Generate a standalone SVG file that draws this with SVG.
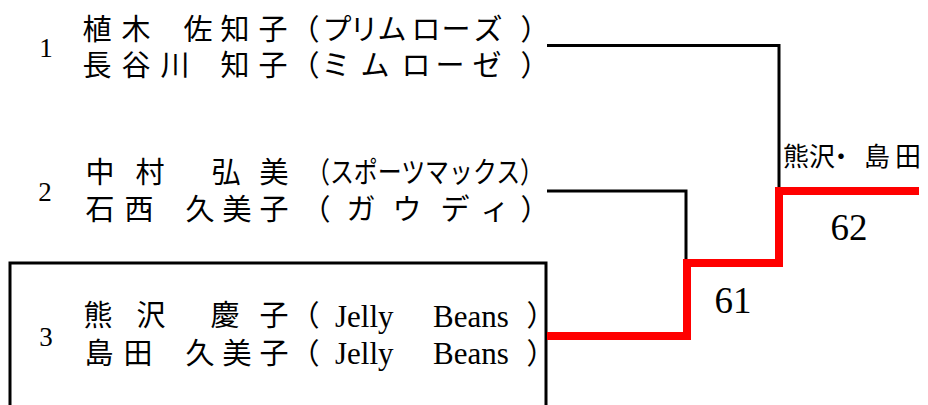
<svg xmlns="http://www.w3.org/2000/svg" width="928" height="405" viewBox="0 0 928 405">
<style>
.jp{font-family:"Noto Sans CJK JP","Liberation Serif",sans-serif;font-size:29px;text-anchor:middle;fill:#000}
.jpc{font-family:"Noto Sans CJK JP","Liberation Serif",sans-serif;font-size:29px;fill:#000}
.lat{font-family:"Liberation Serif",serif;font-size:31px;fill:#000}
.num{font-family:"Liberation Serif",serif;font-size:27px;text-anchor:middle;fill:#000}
.score{font-family:"Liberation Serif",serif;font-size:37px;text-anchor:middle;fill:#000}
.win{font-family:"Noto Sans CJK JP",sans-serif;font-size:26px;text-anchor:middle;fill:#000}
.blk{fill:none;stroke:#000;stroke-width:3}
.red{fill:none;stroke:#f00;stroke-width:8;stroke-linejoin:miter;stroke-linecap:butt}
.box{fill:none;stroke:#000;stroke-width:3}
</style>
<rect width="928" height="405" fill="#fff"/>
<g id="team1">
<text class="num" x="46" y="57">1</text>
<text class="jp" x="97 136 198 235 273 305 337 364 392 426 456 488 535" y="40">植木佐知子（プリムローズ）</text>
<text class="jp" x="97 136 175 235 273 305 336 375 416 450 487 535" y="76">長谷川知子（ミムローゼ）</text>
</g>
<g id="team2">
<text class="num" x="45" y="201">2</text>
<text class="jp" x="100 150 226 274" y="183">中村弘美</text>
<text class="jpc" x="306" y="183" textLength="238" lengthAdjust="spacingAndGlyphs">（スポーツマックス）</text>
<text class="jp" x="100 139 200 237 274 316 361 407 455 495 535" y="220">石西久美子（ガウディ）</text>
</g>
<g id="team3">
<path class="box" d="M10,420 V263 H546 V420"/>
<text class="num" x="46" y="346">3</text>
<text class="jp" x="98 151 225 274" y="326">熊沢慶子</text>
<text class="jp" x="305" y="326">（</text>
<text class="lat" x="335" y="327">Jelly</text>
<text class="lat" x="433" y="327">Beans</text>
<text class="jp" x="541" y="326">）</text>
<text class="jp" x="99 138 200 237 274" y="364">島田久美子</text>
<text class="jp" x="305" y="364">（</text>
<text class="lat" x="335" y="364">Jelly</text>
<text class="lat" x="433" y="364">Beans</text>
<text class="jp" x="541" y="364">）</text>
</g>
<g id="connectors">
<path class="blk" d="M547,45.5 H779 V192"/>
<path class="blk" d="M547,191 H686 V263"/>
<path class="red" d="M547,336 H687 V263 H779 V191 H919"/>
</g>
<g id="labels">
<text class="win" x="796 822 841 877 908" y="166">熊沢・島田</text>
<text class="score" x="849" y="240">62</text>
<text class="score" x="733" y="313">61</text>
</g>
</svg>
